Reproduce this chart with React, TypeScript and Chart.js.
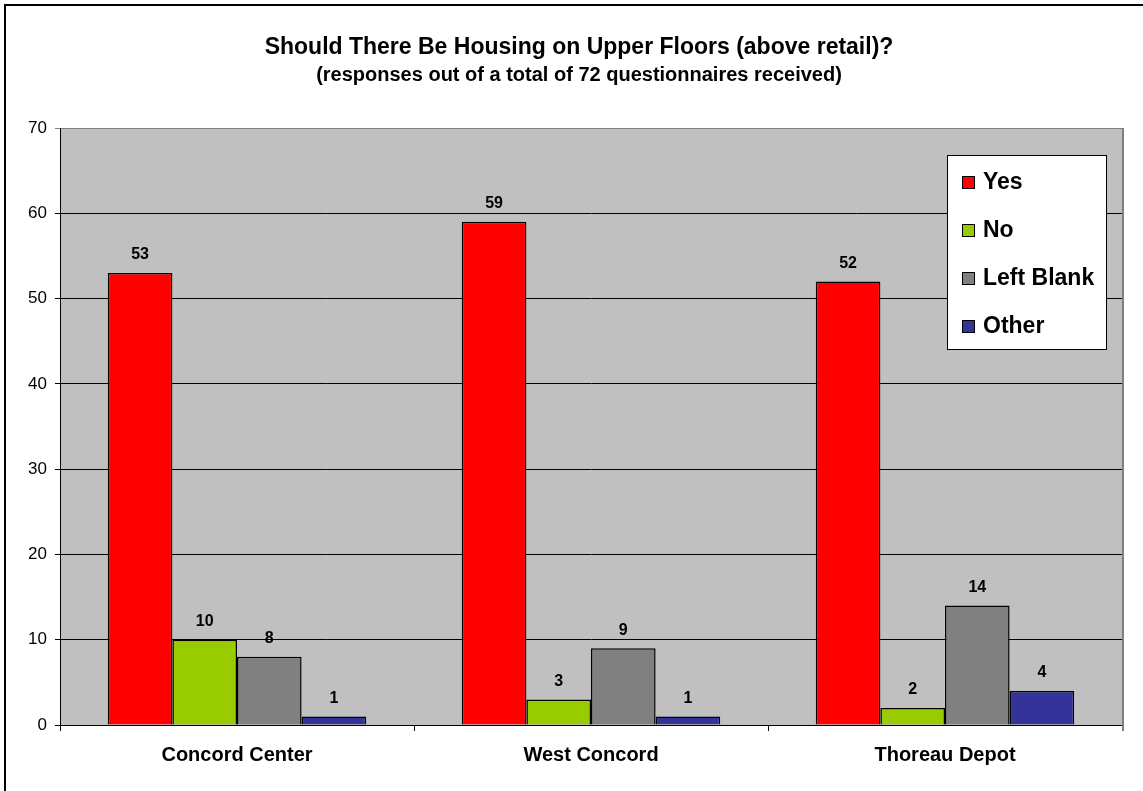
import React, { useEffect, useRef } from "react";
import { Chart, registerables } from "chart.js";

Chart.register(...registerables);

const categories = ["Concord Center", "West Concord", "Thoreau Depot"];
const seriesNames = ["Yes", "No", "Left Blank", "Other"];
const yesValues = [53, 59, 52];
const noValues = [10, 3, 2];
const blankValues = [8, 9, 14];
const otherValues = [1, 1, 4];
const seriesColors = ["#FF0000", "#99CC00", "#808080", "#333399"];
const yTicks = [0, 10, 20, 30, 40, 50, 60, 70];
const titleText = "Should There Be Housing on Upper Floors (above retail)?";
const subtitleText = "(responses out of a total of 72 questionnaires received)";

const FONT = '"Liberation Sans", Arial, Helvetica, sans-serif';

const framePlugin = {
  id: "frame",
  beforeDraw(chart: any) {
    const { ctx, chartArea, width, height } = chart;
    ctx.save();
    ctx.fillStyle = "#FFFFFF";
    ctx.fillRect(0, 0, width, height);
    ctx.fillStyle = "#C0C0C0";
    ctx.fillRect(chartArea.left, chartArea.top, chartArea.right - chartArea.left, chartArea.bottom - chartArea.top);
    ctx.strokeStyle = "#000000";
    ctx.lineWidth = 2;
    ctx.strokeRect(5, 5, width + 20, height + 20);
    ctx.fillStyle = "#000000";
    ctx.textAlign = "center";
    ctx.textBaseline = "middle";
    ctx.font = `bold 23px ${FONT}`;
    ctx.fillText(titleText, 579, 48);
    ctx.font = `bold 20px ${FONT}`;
    ctx.fillText(subtitleText, 579, 75);
    ctx.restore();
  },
  beforeDatasetsDraw(chart: any) {
    const { ctx, chartArea } = chart;
    ctx.save();
    ctx.strokeStyle = "#808080";
    ctx.lineWidth = 2;
    ctx.beginPath();
    ctx.moveTo(chartArea.right + 1, chartArea.top);
    ctx.lineTo(chartArea.right + 1, chartArea.bottom + 6);
    ctx.stroke();
    ctx.restore();
  },
  afterDatasetsDraw(chart: any) {
    const { ctx } = chart;
    ctx.save();
    ctx.fillStyle = "#000000";
    ctx.textAlign = "center";
    ctx.textBaseline = "middle";
    ctx.font = `bold 16px ${FONT}`;
    chart.data.datasets.forEach((ds: any, i: number) => {
      const meta = chart.getDatasetMeta(i);
      meta.data.forEach((el: any, j: number) => {
        ctx.fillText(String(ds.data[j]), el.x, el.y - 18);
      });
    });
    ctx.restore();
  },
  afterDraw(chart: any) {
    const { ctx, chartArea } = chart;
    const boxW = 159;
    const boxH = 194;
    const left = chartArea.right - 16 - boxW;
    const top = chartArea.top + 27;
    ctx.save();
    ctx.fillStyle = "#FFFFFF";
    ctx.fillRect(left, top, boxW, boxH);
    ctx.strokeStyle = "#000000";
    ctx.lineWidth = 1;
    ctx.strokeRect(left + 0.5, top + 0.5, boxW, boxH);
    ctx.font = `bold 23px ${FONT}`;
    ctx.textBaseline = "middle";
    ctx.textAlign = "left";
    chart.data.datasets.forEach((ds: any, i: number) => {
      const cy = top + 27 + i * 48;
      ctx.fillStyle = ds.backgroundColor;
      ctx.fillRect(left + 15, cy - 6, 13, 13);
      ctx.strokeStyle = "#000000";
      ctx.strokeRect(left + 15.5, cy - 5.5, 12, 12);
      ctx.fillStyle = "#000000";
      ctx.fillText(ds.label, left + 36, cy + 1);
    });
    ctx.restore();
  },
};

export default function App() {
  const ref = useRef<HTMLCanvasElement>(null);
  useEffect(() => {
    if (!ref.current) return;
    const seriesValues = [yesValues, noValues, blankValues, otherValues];
    const chart = new Chart(ref.current, {
      type: "bar",
      data: {
        labels: categories,
        datasets: seriesNames.map((name, i) => ({
          label: name,
          data: seriesValues[i],
          backgroundColor: seriesColors[i],
          borderColor: "#000000",
          borderWidth: 1.5,
          categoryPercentage: 0.73,
          barPercentage: 1,
        })),
      },
      options: {
        animation: false,
        responsive: false,
        maintainAspectRatio: false,
        layout: { padding: { top: 128, right: 21, left: 0, bottom: 0 } },
        plugins: { legend: { display: false }, title: { display: false }, tooltip: { enabled: false } },
        scales: {
          x: {
            offset: true,
            grid: { display: true, drawOnChartArea: false, offset: true, tickLength: 6, color: "#000000" },
            border: { display: true, color: "#000000", width: 1 },
            ticks: { color: "#000000", font: { family: FONT, size: 20, weight: "bold" }, padding: 12 },
            afterFit: (s: any) => { s.height = 66; },
          },
          y: {
            min: 0,
            max: 70,
            afterBuildTicks: (s: any) => { s.ticks = yTicks.map((v) => ({ value: v })); },
            grid: {
              color: (c: any) => (c.tick && c.tick.value === 70 ? "#808080" : "#000000"),
              tickLength: 5,
            },
            border: { display: true, color: "#000000", width: 1 },
            ticks: { color: "#000000", font: { family: FONT, size: 17 }, padding: 8 },
            afterFit: (s: any) => { s.width = 60; },
          },
        },
      },
      plugins: [framePlugin],
    } as any);
    return () => chart.destroy();
  }, []);
  return (
    <div style={{ position: "absolute", left: 0, top: 0, width: 1143, height: 791 }}>
      <canvas ref={ref} width={1143} height={791} style={{ width: 1143, height: 791, display: "block" }} />
    </div>
  );
}
